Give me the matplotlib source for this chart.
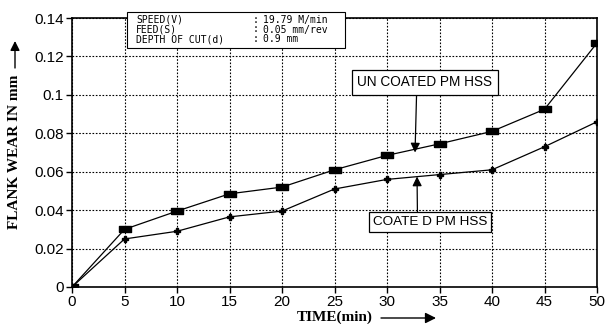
import matplotlib
matplotlib.use("Agg")
import matplotlib.pyplot as plt
from matplotlib.patches import Rectangle

time = [0, 5, 10, 15, 20, 25, 30, 35, 40, 45, 50]
uncoated = [0, 0.030, 0.0395, 0.0485, 0.052, 0.061, 0.0685, 0.0745, 0.081, 0.0925, 0.127]
coated = [0, 0.025, 0.029, 0.0365, 0.0395, 0.051, 0.056, 0.0585, 0.061, 0.073, 0.086]
xticks = [0, 5, 10, 15, 20, 25, 30, 35, 40, 45, 50]
yticks = [0, 0.02, 0.04, 0.06, 0.08, 0.1, 0.12, 0.14]
ytick_labels = ["0", "0.02", "0.04", "0.06", "0.08", "0.1", "0.12", "0.14"]

fig = plt.figure(figsize=(6.05, 3.24), dpi=100)
ax = fig.add_axes([72/605, 37/324, 525/605, 269/324])

rect_marker = [(-1, -0.5), (1, -0.5), (1, 0.5), (-1, 0.5), (-1, -0.5)]
ax.plot(time, uncoated, color="black", lw=0.9, marker=rect_marker, markersize=9,
        markerfacecolor="black", zorder=3)
ax.plot(time, coated, color="black", lw=0.9, marker="P", markersize=4.5,
        markerfacecolor="black", zorder=3)

ax.set_xlim(0, 50)
ax.set_ylim(0, 0.14)
ax.set_xticks(xticks)
ax.set_yticks(yticks)
ax.set_yticklabels(ytick_labels)
ax.tick_params(labelsize=11, length=4, direction="out", width=1, pad=2)
for lbl in ax.get_xticklabels() + ax.get_yticklabels():
    lbl.set_family("Liberation Sans")
ax.grid(True, color="black", linestyle=(0, (1.5, 1.5)), lw=0.8)
for s in ax.spines.values():
    s.set_linewidth(1.2)

# Info box
info = fig.add_axes([0, 0, 1, 1], frameon=False)
info.set_xlim(0, 605)
info.set_ylim(324, 0)
info.axis("off")
info.add_patch(Rectangle((127, 12), 218, 36, fill=True, facecolor="white",
                         edgecolor="black", lw=0.8, zorder=5))
rows = [("SPEED(V)", ":", "19.79 M/min"),
        ("FEED(S)", ":", "0.05 mm/rev"),
        ("DEPTH OF CUT(d)", ":", "0.9 mm")]
for i, (a, b, c) in enumerate(rows):
    y = 20 + i * 9.5
    info.text(136, y, a, fontsize=7, family="DejaVu Sans Mono", va="center", zorder=6)
    info.text(253, y, b, fontsize=7, family="DejaVu Sans Mono", va="center", zorder=6)
    info.text(263, y, c, fontsize=7, family="DejaVu Sans Mono", va="center", zorder=6)

# Annotations
ax.annotate("UN COATED PM HSS", xy=(32.67, 0.0700), xytext=(33.6, 0.1065),
            ha="center", va="center", fontsize=9.8, family="Liberation Sans",
            bbox=dict(boxstyle="square,pad=0.4", fc="white", ec="black", lw=0.9),
            arrowprops=dict(arrowstyle="-|>", color="black", lw=0.9,
                            mutation_scale=14, shrinkA=0, shrinkB=0,
                            relpos=(0.44, 0.0)),
            zorder=6)
ax.annotate("COATE D PM HSS", xy=(32.86, 0.0575), xytext=(34.1, 0.0336),
            ha="center", va="center", fontsize=9.7, family="Liberation Sans",
            bbox=dict(boxstyle="square,pad=0.3", fc="white", ec="black", lw=0.9),
            arrowprops=dict(arrowstyle="-|>", color="black", lw=0.9,
                            mutation_scale=14, shrinkA=0, shrinkB=0,
                            relpos=(0.39, 1.0)),
            zorder=6)

# Axis labels with arrows
info.text(15, 152, "FLANK WEAR IN mm", rotation=90, ha="center", va="center",
          fontsize=11, fontweight="bold", family="Liberation Serif")
info.annotate("", xy=(15, 41), xytext=(15, 68),
              arrowprops=dict(arrowstyle="-|>", color="black", lw=1.0,
                              mutation_scale=14, shrinkA=0, shrinkB=0))
info.text(335, 317, "TIME(min)", ha="center", va="center",
          fontsize=11, fontweight="bold", family="Liberation Serif")
info.annotate("", xy=(436, 318), xytext=(381, 318),
              arrowprops=dict(arrowstyle="-|>", color="black", lw=1.0,
                              mutation_scale=16, shrinkA=0, shrinkB=0))

fig.savefig("out.png", dpi=100)
